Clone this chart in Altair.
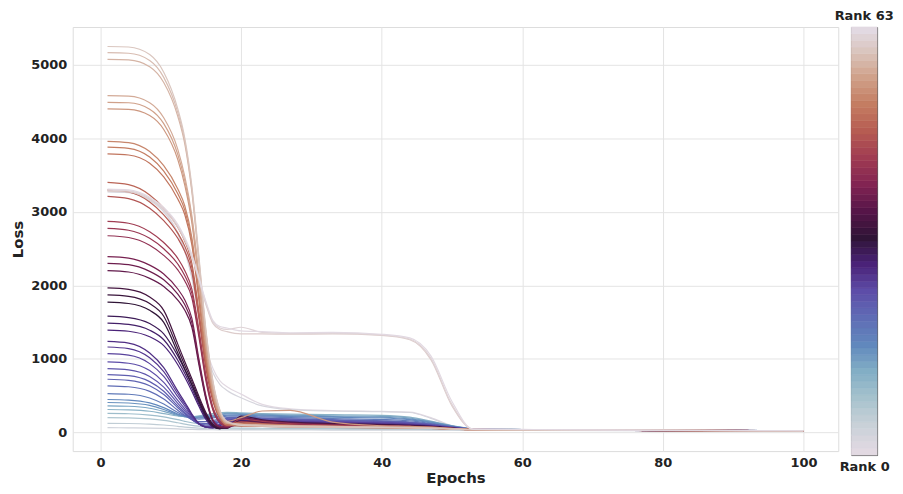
import altair as alt
import pandas as pd

epochs = [1, 4, 7, 9, 11, 12, 13, 14, 15, 16, 17, 18, 20, 23, 27, 33, 40, 44, 47, 50, 53, 60, 75, 100]

# loss per rank at the epochs above
loss_r0 = [3290, 3280, 3175, 3020, 2720, 2480, 2120, 1600, 1150, 870, 700, 620, 520, 380, 320, 295, 285, 275, 200, 90, 42, 36, 30, 22]
loss_r2 = [3270, 3260, 3155, 3000, 2700, 2460, 2100, 1580, 1100, 810, 650, 570, 470, 360, 310, 290, 280, 270, 190, 85, 41, 35, 29, 22]
loss_r3 = [63, 62, 58, 53, 46, 42, 40, 38, 36, 35, 34, 33, 33, 32, 32, 31, 31, 30, 30, 29, 28, 26, 24, 20]
loss_r5 = [122, 120, 112, 100, 82, 72, 64, 58, 54, 50, 48, 46, 45, 44, 43, 42, 41, 40, 38, 35, 32, 29, 26, 21]
loss_r7 = [199, 196, 182, 162, 130, 112, 96, 84, 75, 68, 64, 60, 58, 56, 54, 52, 50, 48, 45, 40, 35, 31, 27, 22]
loss_r9 = [257, 253, 235, 210, 172, 150, 130, 115, 105, 98, 92, 88, 84, 80, 76, 72, 68, 62, 55, 46, 38, 33, 28, 22]
loss_r11 = [311, 306, 287, 255, 222, 215, 215, 225, 240, 255, 265, 272, 265, 255, 248, 240, 232, 208, 152, 92, 48, 38, 30, 24]
loss_r13 = [361, 355, 328, 285, 230, 215, 210, 215, 225, 235, 250, 260, 255, 245, 235, 225, 218, 195, 145, 90, 48, 38, 30, 24]
loss_r15 = [406, 399, 366, 310, 240, 215, 205, 205, 215, 225, 240, 250, 245, 235, 225, 215, 205, 182, 138, 86, 48, 38, 30, 24]
loss_r16 = [447, 439, 400, 337, 250, 220, 200, 195, 200, 210, 225, 235, 235, 225, 215, 205, 195, 172, 130, 82, 47, 38, 29, 23]
loss_r18 = [528, 518, 468, 385, 270, 225, 195, 180, 185, 195, 210, 220, 220, 210, 200, 188, 175, 155, 120, 78, 46, 37, 29, 23]
loss_r20 = [633, 620, 558, 455, 300, 230, 175, 145, 145, 160, 180, 200, 205, 195, 185, 172, 158, 140, 112, 74, 46, 37, 29, 23]
loss_r21 = [722, 708, 635, 515, 335, 250, 170, 125, 120, 140, 165, 190, 200, 190, 180, 166, 152, 134, 108, 72, 45, 36, 28, 22]
loss_r22 = [786, 771, 690, 560, 360, 265, 175, 115, 100, 120, 150, 180, 190, 180, 170, 158, 145, 128, 104, 70, 44, 36, 28, 22]
loss_r23 = [867, 850, 760, 615, 395, 290, 185, 115, 85, 100, 140, 170, 180, 172, 162, 150, 138, 122, 100, 68, 43, 35, 28, 22]
loss_r24 = [958, 940, 840, 680, 435, 320, 200, 115, 75, 80, 120, 160, 175, 165, 155, 142, 130, 116, 95, 65, 42, 35, 27, 22]
loss_r25 = [1070, 1050, 935, 760, 485, 355, 220, 115, 70, 70, 110, 150, 170, 160, 150, 138, 126, 112, 92, 64, 42, 35, 27, 22]
loss_r26 = [1161, 1140, 1015, 825, 525, 385, 235, 115, 70, 60, 100, 140, 160, 150, 140, 128, 118, 106, 88, 62, 41, 34, 27, 21]
loss_r27 = [1237, 1215, 1080, 880, 560, 410, 250, 120, 70, 60, 90, 130, 150, 140, 130, 120, 110, 100, 85, 60, 40, 34, 26, 21]
loss_r28 = [1392, 1375, 1300, 1180, 920, 750, 560, 355, 175, 70, 55, 110, 130, 120, 110, 100, 92, 86, 74, 54, 38, 32, 25, 20]
loss_r29 = [1486, 1468, 1390, 1260, 980, 800, 600, 385, 195, 75, 50, 100, 160, 140, 125, 110, 100, 92, 78, 56, 39, 33, 26, 21]
loss_r30 = [1581, 1562, 1480, 1340, 1040, 850, 640, 410, 210, 80, 50, 90, 140, 125, 115, 105, 95, 88, 75, 55, 38, 32, 25, 20]
loss_r32 = [1771, 1753, 1660, 1497, 1080, 860, 650, 430, 230, 90, 50, 70, 150, 130, 115, 100, 92, 85, 72, 54, 38, 32, 25, 20]
loss_r33 = [1870, 1851, 1752, 1580, 1140, 910, 690, 460, 250, 100, 55, 60, 180, 150, 125, 110, 100, 90, 76, 56, 39, 33, 26, 21]
loss_r34 = [1965, 1945, 1840, 1660, 1200, 960, 730, 490, 270, 110, 60, 55, 220, 170, 140, 120, 105, 95, 80, 58, 40, 34, 27, 21]
loss_r37 = [2200, 2182, 2095, 1985, 1800, 1660, 1430, 920, 450, 150, 70, 65, 120, 110, 100, 90, 82, 75, 66, 50, 38, 33, 28, 23]
loss_r38 = [2300, 2281, 2190, 2075, 1880, 1735, 1490, 960, 470, 160, 75, 70, 200, 160, 130, 110, 95, 85, 72, 55, 40, 34, 29, 24]
loss_r39 = [2390, 2370, 2275, 2155, 1950, 1800, 1550, 1000, 500, 170, 80, 70, 150, 130, 110, 95, 85, 78, 68, 52, 38, 33, 28, 23]
loss_r42 = [2675, 2651, 2545, 2408, 2210, 2060, 1830, 1300, 700, 300, 130, 80, 100, 95, 88, 80, 74, 68, 60, 48, 37, 32, 27, 22]
loss_r43 = [2775, 2750, 2640, 2497, 2290, 2130, 1890, 1350, 740, 320, 140, 85, 120, 110, 100, 90, 80, 72, 64, 50, 38, 33, 28, 23]
loss_r44 = [2870, 2845, 2730, 2583, 2367, 2200, 1950, 1400, 780, 340, 150, 90, 180, 150, 120, 100, 88, 80, 70, 55, 40, 34, 29, 24]
loss_r47 = [3210, 3181, 3050, 2880, 2640, 2460, 2180, 1550, 870, 420, 185, 95, 110, 100, 90, 80, 72, 65, 58, 47, 37, 33, 28, 23]
loss_r48 = [3300, 3270, 3135, 2960, 2710, 2530, 2240, 1600, 910, 450, 200, 100, 95, 90, 82, 75, 68, 62, 56, 46, 36, 32, 28, 22]
loss_r49 = [3400, 3370, 3230, 3050, 2790, 2600, 2300, 1650, 950, 470, 210, 110, 140, 120, 100, 85, 75, 68, 60, 48, 37, 33, 28, 23]
loss_r51 = [3790, 3773, 3660, 3475, 3175, 2960, 2550, 1800, 980, 470, 200, 100, 85, 80, 75, 68, 62, 58, 52, 44, 35, 31, 27, 22]
loss_r52 = [3880, 3863, 3745, 3555, 3245, 3020, 2600, 1850, 1030, 500, 210, 110, 120, 110, 95, 80, 72, 66, 58, 48, 37, 33, 28, 23]
loss_r53 = [3960, 3942, 3820, 3628, 3312, 3080, 2650, 1900, 1080, 530, 230, 120, 90, 85, 78, 70, 65, 60, 55, 45, 36, 32, 28, 22]
loss_r55 = [4400, 4394, 4310, 4120, 3710, 3360, 2850, 2050, 1150, 530, 220, 150, 200, 290, 300, 140, 90, 80, 70, 55, 40, 34, 29, 24]
loss_r56 = [4490, 4484, 4397, 4200, 3780, 3420, 2900, 2100, 1200, 560, 240, 120, 110, 95, 85, 78, 70, 64, 58, 48, 37, 33, 28, 23]
loss_r57 = [4580, 4574, 4485, 4280, 3850, 3480, 2950, 2150, 1250, 600, 260, 130, 100, 90, 80, 72, 66, 60, 55, 46, 36, 32, 28, 22]
loss_r58 = [5075, 5068, 4975, 4760, 4300, 3920, 3270, 2320, 1340, 660, 280, 135, 100, 90, 82, 75, 70, 65, 60, 50, 38, 33, 28, 23]
loss_r59 = [5165, 5158, 5060, 4830, 4350, 3960, 3310, 2360, 1370, 680, 290, 140, 110, 100, 90, 80, 72, 66, 58, 48, 38, 33, 28, 23]
loss_r60 = [5250, 5243, 5140, 4900, 4400, 4000, 3350, 2400, 1400, 700, 300, 150, 95, 85, 75, 70, 65, 60, 55, 45, 35, 32, 28, 22]
loss_r61 = [3280, 3270, 3170, 3030, 2790, 2610, 2380, 2070, 1740, 1480, 1400, 1370, 1340, 1340, 1335, 1340, 1320, 1260, 990, 360, 43, 38, 29, 21]
loss_r62 = [3295, 3285, 3185, 3045, 2810, 2630, 2400, 2090, 1760, 1500, 1420, 1400, 1430, 1360, 1345, 1350, 1325, 1270, 1010, 380, 44, 39, 30, 22]
loss_r63 = [3310, 3300, 3200, 3060, 2830, 2650, 2420, 2110, 1780, 1520, 1440, 1420, 1380, 1370, 1355, 1360, 1335, 1285, 1040, 420, 45, 40, 30, 22]

series = [
    (0, loss_r0), (2, loss_r2), (3, loss_r3), (5, loss_r5), (7, loss_r7), (9, loss_r9),
    (11, loss_r11), (13, loss_r13), (15, loss_r15), (16, loss_r16), (18, loss_r18),
    (20, loss_r20), (21, loss_r21), (22, loss_r22), (23, loss_r23), (24, loss_r24),
    (25, loss_r25), (26, loss_r26), (27, loss_r27), (28, loss_r28), (29, loss_r29),
    (30, loss_r30), (32, loss_r32), (33, loss_r33), (34, loss_r34), (37, loss_r37),
    (38, loss_r38), (39, loss_r39), (42, loss_r42), (43, loss_r43), (44, loss_r44),
    (47, loss_r47), (48, loss_r48), (49, loss_r49), (51, loss_r51), (52, loss_r52),
    (53, loss_r53), (55, loss_r55), (56, loss_r56), (57, loss_r57), (58, loss_r58),
    (59, loss_r59), (60, loss_r60), (61, loss_r61), (62, loss_r62), (63, loss_r63),
]
for r, vals in series:
    assert len(vals) == len(epochs), (r, len(vals))

rows = [{"rank": r, "epoch": e, "loss": v} for r, vals in series for e, v in zip(epochs, vals)]
df = pd.DataFrame(rows)

# twilight-like colour ramp
rank_stops = [0, 4, 8, 12, 16, 20, 24, 28, 32, 36, 40, 44, 48, 52, 56, 60, 63]
rank_colors = ["#e2d9e2", "#c9d1d8", "#a6c2cd", "#82aec5", "#6188bd", "#5f6cb5", "#5d4da8",
               "#4a2278", "#2f1436", "#561548", "#822452", "#a03c52", "#b65c52", "#c47d62",
               "#d0a18a", "#dac6bf", "#e2d9e2"]
color_scale = alt.Scale(domain=rank_stops, range=rank_colors, interpolate="rgb")

all_ranks = list(range(64))
cb_df = pd.DataFrame({"rank": all_ranks,
                      "lo": [r - 0.5 for r in all_ranks],
                      "hi": [r + 0.5 for r in all_ranks],
                      "col": [""] * 64})

FONT = "DejaVu Sans"

lines = alt.Chart(df).mark_line(strokeWidth=1.2, interpolate="monotone").encode(
    x=alt.X("epoch:Q",
            scale=alt.Scale(domain=[-3.95, 104.95], nice=False, zero=False),
            axis=alt.Axis(values=[0, 20, 40, 60, 80, 100], title="Epochs",
                          labelPadding=5, titlePadding=2)),
    y=alt.Y("loss:Q",
            scale=alt.Scale(domain=[-255, 5515], nice=False, zero=False),
            axis=alt.Axis(values=[0, 1000, 2000, 3000, 4000, 5000], format="d",
                          title="Loss", labelPadding=6, titlePadding=5)),
    color=alt.Color("rank:Q", scale=color_scale, legend=None),
    detail="rank:N",
).properties(width=769, height=426)

cbar = alt.Chart(cb_df).mark_rect(strokeWidth=0.6).encode(
    x=alt.X("col:N", scale=alt.Scale(paddingInner=0, paddingOuter=0),
            axis=alt.Axis(title="Rank 0", labels=False, ticks=False, domain=False,
                          grid=False, titlePadding=6, titleFontSize=13)),
    y=alt.Y("lo:Q", scale=alt.Scale(domain=[-0.5, 63.5], nice=False, zero=False), axis=None),
    y2="hi:Q",
    color=alt.Color("rank:Q", scale=color_scale, legend=None),
    stroke=alt.Stroke("rank:Q", scale=color_scale, legend=None),
).properties(
    width=26, height=430,
    title=alt.TitleParams("Rank 63", fontSize=13, font=FONT, fontWeight="bold",
                          color="#222222", offset=4),
    view=alt.ViewBackground(stroke="#555555", strokeWidth=1),
)

chart = alt.hconcat(lines, cbar, spacing=13, bounds="flush").properties(
    padding={"left": 2, "top": 0, "right": 0, "bottom": 0}
).configure_axis(
    labelFont=FONT, labelFontWeight="bold", labelFontSize=13, labelColor="#222222",
    titleFont=FONT, titleFontWeight="bold", titleFontSize=15, titleColor="#222222",
    gridColor="#e4e4e4", gridWidth=1, domain=False, ticks=False,
).configure_view(stroke="#dddddd", strokeWidth=1)

chart.save("out.html", embed_options={"renderer": "svg", "actions": False})
